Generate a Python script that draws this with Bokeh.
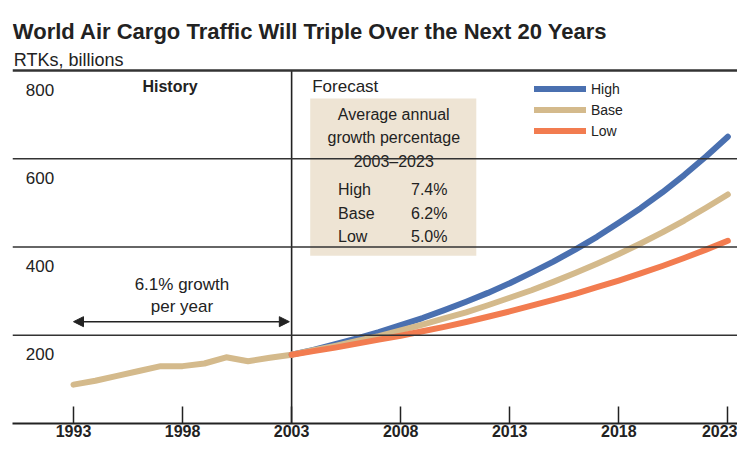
from bokeh.plotting import figure
from bokeh.models import Span, Arrow, NormalHead, Legend, LegendItem, Range1d, FixedTicker
from bokeh.core.properties import value
from bokeh.embed import file_html
from bokeh.resources import INLINE

# ---- data ----
hist_years = [1993, 1994, 1995, 1996, 1997, 1998, 1999, 2000, 2001, 2002, 2003]
hist_vals = [88, 97, 108, 119, 130, 130, 136, 150, 141, 149, 156]

fc_years = list(range(2003, 2024))
high_vals = [156, 167, 180, 193, 207, 223, 239, 257, 276, 296, 318, 342, 367, 394, 423, 455, 488, 524, 563, 605, 650]
base_vals = [156, 166, 176, 187, 198, 211, 224, 238, 252, 268, 285, 302, 321, 341, 362, 384, 408, 433, 460, 489, 519]
low_vals = [156, 164, 172, 181, 190, 199, 209, 219, 230, 242, 254, 267, 280, 294, 309, 324, 340, 357, 375, 394, 414]

x_ticks = [1993, 1998, 2003, 2008, 2013, 2018, 2023]
y_ticks = [200, 400, 600, 800]
y_tick_labels = ["200", "400", "600", "800"]

scenarios = ["High", "Base", "Low"]
growth_rates = ["7.4%", "6.2%", "5.0%"]

title_text = "World Air Cargo Traffic Will Triple Over the Next 20 Years"
subtitle_text = "RTKs, billions"

# ---- style ----
FONT = "Liberation Sans"
C_HIGH = "#4a70b0"
C_BASE = "#d4ba8c"
C_LOW = "#f27c50"
C_BOX = "#eee4d4"
INK = "#222222"


def X_of(px):
    """year at a horizontal position of the reference layout"""
    return 1993 + (px - 73) / 21.93


def V_of(py):
    """value at a vertical position of the reference layout"""
    return (436 - py) / 0.455


FRAME_H = 445 - 22
PX_PER_UNIT = (FRAME_H - 70) / 800.0
Y_TOP = FRAME_H / PX_PER_UNIT
PX_PER_YR = 21.45

p = figure(width=737, height=445, output_backend="svg", toolbar_location=None,
           x_range=Range1d(1993 - 60 / PX_PER_YR, 1993 + (725 - 72) / PX_PER_YR),
           y_range=Range1d(0, Y_TOP),
           min_border_left=12, min_border_right=0, min_border_top=0, min_border_bottom=22)
p.outline_line_color = None
p.grid.visible = False
p.yaxis.visible = False
p.background_fill_color = "white"
p.border_fill_color = "white"

xa = p.xaxis[0]
xa.ticker = FixedTicker(ticks=x_ticks)
xa.minor_tick_line_color = None
xa.major_tick_in = 17
xa.major_tick_out = 0
xa.major_tick_line_width = 1.5
xa.major_tick_line_color = INK
xa.axis_line_width = 2
xa.axis_line_color = INK
xa.major_label_text_font = FONT
xa.major_label_text_font_size = "16px"
xa.major_label_text_font_style = "bold"
xa.major_label_text_color = INK
xa.major_label_standoff = 1

# horizontal rules
for v in y_ticks:
    p.add_layout(Span(location=v, dimension="width", line_color="#333333",
                      line_width=2.6 if v == 800 else 1.6))

# annotation box
p.quad(left=[X_of(311)], right=[X_of(478)], top=[V_of(101)], bottom=[V_of(263)],
       fill_color=C_BOX, line_color=None)

# vertical divider at 2003
p.segment(x0=[2003], x1=[2003], y0=[0], y1=[800], line_color=INK, line_width=1.6)

# y labels (below their rules)
p.text(x=[X_of(25)] * 4, y=y_ticks, text=y_tick_labels, text_font=value(FONT),
       text_font_size="17px", text_baseline="alphabetic", text_align="left",
       y_offset=19, text_color=INK)

# titles
p.text(x=[X_of(12)], y=[V_of(32)], text=[title_text], text_font=value(FONT),
       text_font_size="22px", text_font_style="bold", text_baseline="alphabetic",
       text_align="left", text_color="#222222")
p.text(x=[X_of(13)], y=[V_of(61)], text=[subtitle_text], text_font=value(FONT),
       text_font_size="18px", text_baseline="alphabetic", text_align="left",
       text_color="#222222")

# section headers
p.text(x=[X_of(170)], y=[V_of(89)], text=["History"], text_font=value(FONT),
       text_font_size="16px", text_font_style="bold", text_baseline="middle",
       text_align="center", text_color=INK)
p.text(x=[X_of(313)], y=[V_of(89)], text=["Forecast"], text_font=value(FONT),
       text_font_size="17px", text_baseline="middle", text_align="left",
       text_color=INK)

# box text
p.text(x=[X_of(395)] * 3, y=[V_of(117), V_of(141), V_of(166)],
       text=["Average annual", "growth percentage", "2003\u20132023"],
       text_font=value(FONT), text_font_size="16px", text_baseline="middle",
       text_align="center", text_color=INK)
p.text(x=[X_of(339)] * 3, y=[V_of(195), V_of(219), V_of(243)], text=scenarios,
       text_font=value(FONT), text_font_size="16px", text_baseline="middle",
       text_align="left", text_color=INK)
p.text(x=[X_of(449)] * 3, y=[V_of(195), V_of(219), V_of(243)], text=growth_rates,
       text_font=value(FONT), text_font_size="16px", text_baseline="middle",
       text_align="right", text_color=INK)

# history growth annotation
p.text(x=[X_of(182)] * 2, y=[V_of(293), V_of(315)], text=["6.1% growth", "per year"],
       text_font=value(FONT), text_font_size="17px", text_baseline="middle",
       text_align="center", text_color=INK)
p.add_layout(Arrow(start=NormalHead(size=10, fill_color=INK, line_color=INK),
                   end=NormalHead(size=10, fill_color=INK, line_color=INK),
                   x_start=1993, x_end=X_of(290), y_start=V_of(331), y_end=V_of(331),
                   line_color=INK, line_width=1.5))

# data lines
r_hist = p.line(hist_years, hist_vals, line_color=C_BASE, line_width=6, line_cap="round", line_join="round")
r_high = p.line(fc_years, high_vals, line_color=C_HIGH, line_width=6, line_cap="round", line_join="round")
r_base = p.line(fc_years, base_vals, line_color=C_BASE, line_width=6, line_cap="round", line_join="round")
r_low = p.line(fc_years, low_vals, line_color=C_LOW, line_width=6, line_cap="round", line_join="round")

legend = Legend(items=[LegendItem(label="High", renderers=[r_high]),
                       LegendItem(label="Base", renderers=[r_base]),
                       LegendItem(label="Low", renderers=[r_low])],
                location=(522, 282), orientation="vertical",
                padding=0, spacing=0, margin=0, glyph_width=52, glyph_height=21,
                label_height=21, label_standoff=5, label_text_font=FONT,
                label_text_font_size="14px", label_text_color=INK,
                background_fill_alpha=0, border_line_color=None)
p.add_layout(legend)

open("out.html", "w").write(file_html(p, INLINE))
